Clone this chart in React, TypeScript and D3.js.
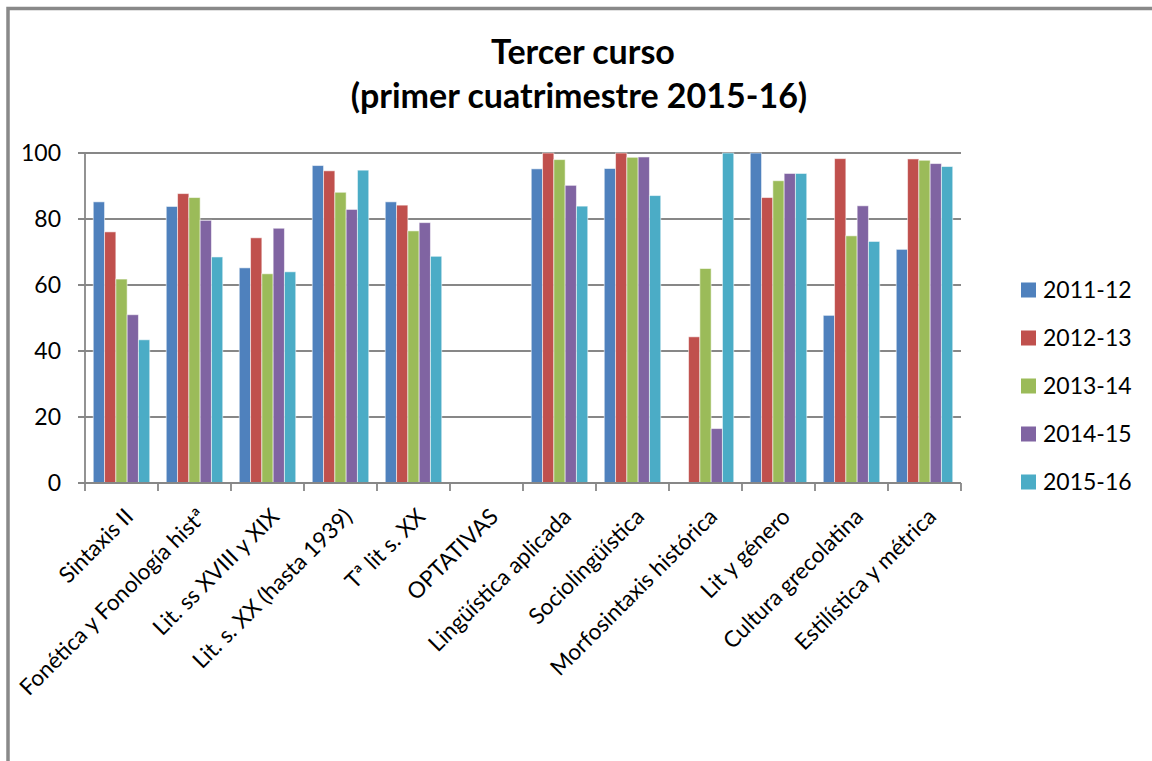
import * as d3 from 'd3';

const CATEGORIES = [
  'Sintaxis II',
  'Fonética y Fonología histª',
  'Lit. ss XVIII y XIX',
  'Lit. s. XX (hasta 1939)',
  'Tª lit s. XX',
  'OPTATIVAS',
  'Lingüística aplicada',
  'Sociolingüística',
  'Morfosintaxis histórica',
  'Lit y género',
  'Cultura grecolatina',
  'Estilística y métrica',
];

const SERIES = ['2011-12', '2012-13', '2013-14', '2014-15', '2015-16'];
const COLORS = ['#4F81BD', '#C0504D', '#9BBB59', '#8064A2', '#4BACC6'];

// null = no bar
const V_2011_12 = [85.2, 83.8, 65.2, 96.2, 85.2, null, 95.2, 95.3, null, 100, 50.8, 70.8];
const V_2012_13 = [76.1, 87.7, 74.3, 94.6, 84.2, null, 100, 100, 44.3, 86.5, 98.3, 98.2];
const V_2013_14 = [61.8, 86.5, 63.4, 88.1, 76.4, null, 98.0, 98.7, 65.0, 91.6, 74.9, 97.8];
const V_2014_15 = [51.0, 79.6, 77.2, 82.9, 78.9, null, 90.2, 98.8, 16.5, 93.8, 84.0, 96.8];
const V_2015_16 = [43.4, 68.5, 64.0, 94.8, 68.7, null, 83.9, 87.1, 100, 93.8, 73.2, 95.9];

const VALUES = [V_2011_12, V_2012_13, V_2013_14, V_2014_15, V_2015_16];
const Y_TICKS = [0, 20, 40, 60, 80, 100];

const TITLE = ['Tercer curso', '(primer cuatrimestre 2015-16)'];

const FONT = 'Lato, Carlito, Calibri, "Open Sans", sans-serif';
const GRID = '#878787';

const PLOT = { left: 85, right: 961, top: 153, bottom: 483 };

export default function App() {
  const x0 = d3.scaleBand().domain(CATEGORIES).range([PLOT.left, PLOT.right]).paddingInner(0);
  const x1 = d3.scaleBand().domain(SERIES).range([0, x0.bandwidth()]).paddingInner(0).paddingOuter(0.73);
  const y = d3.scaleLinear().domain([0, 100]).range([PLOT.bottom, PLOT.top]);

  const bounds = CATEGORIES.map((c) => x0(c) ?? 0).concat([PLOT.right]);

  return (
    <svg
      width={1152}
      height={761}
      style={{ position: 'absolute', left: 0, top: 0, background: '#fff' }}
      fontFamily={FONT}
    >
      {/* outer frame (only left/top visible) */}
      <path d="M8,761 V8.5 H1152" fill="none" stroke="#898989" strokeWidth={3.5} />

      {/* title */}
      <g fontWeight="bold" fontSize={34} textAnchor="middle" fill="#000">
        <text x={583} y={64}>{TITLE[0]}</text>
        <text x={579} y={108}>{TITLE[1]}</text>
      </g>

      {/* gridlines + y labels */}
      {Y_TICKS.map((t) => (
        <g key={t}>
          <line x1={PLOT.left - 7} x2={PLOT.right} y1={y(t)} y2={y(t)} stroke={GRID} strokeWidth={1.8} />
          <text x={61} y={y(t)} dy="0.36em" textAnchor="end" fontSize={23} fill="#000">
            {t}
          </text>
        </g>
      ))}

      {/* y axis */}
      <line x1={PLOT.left} x2={PLOT.left} y1={PLOT.top} y2={PLOT.bottom} stroke={GRID} strokeWidth={1.8} />

      {/* bars */}
      {VALUES.map((vals, si) =>
        vals.map((v, ci) =>
          v == null ? null : (
            <rect
              key={`${si}-${ci}`}
              x={(x0(CATEGORIES[ci]) ?? 0) + (x1(SERIES[si]) ?? 0)}
              y={y(v)}
              width={x1.bandwidth()}
              height={y(0) - y(v)}
              fill={COLORS[si]}
              stroke="#ffffff"
              strokeOpacity={0.55}
              strokeWidth={1}
            />
          )
        )
      )}

      {/* x axis line and ticks */}
      <line x1={PLOT.left - 7} x2={PLOT.right} y1={PLOT.bottom} y2={PLOT.bottom} stroke={GRID} strokeWidth={1.8} />
      {bounds.map((bx, i) => (
        <line key={i} x1={bx} x2={bx} y1={PLOT.bottom} y2={PLOT.bottom + 8} stroke={GRID} strokeWidth={1.8} />
      ))}

      {/* category labels */}
      {CATEGORIES.map((c) => {
        const cx = (x0(c) ?? 0) + x0.bandwidth() / 2;
        return (
          <text
            key={c}
            transform={`translate(${cx + 2},${PLOT.bottom + 24}) rotate(-45)`}
            textAnchor="end"
            dy="0.7em"
            fontSize={22.5}
            fill="#000"
          >
            {c}
          </text>
        );
      })}

      {/* legend */}
      {SERIES.map((s, i) => {
        const ly = 290 + i * 48;
        return (
          <g key={s}>
            <rect x={1021} y={ly - 7.5} width={15} height={15} fill={COLORS[i]} />
            <text x={1043} y={ly} dy="0.36em" fontSize={23} fill="#000">
              {s}
            </text>
          </g>
        );
      })}
    </svg>
  );
}
